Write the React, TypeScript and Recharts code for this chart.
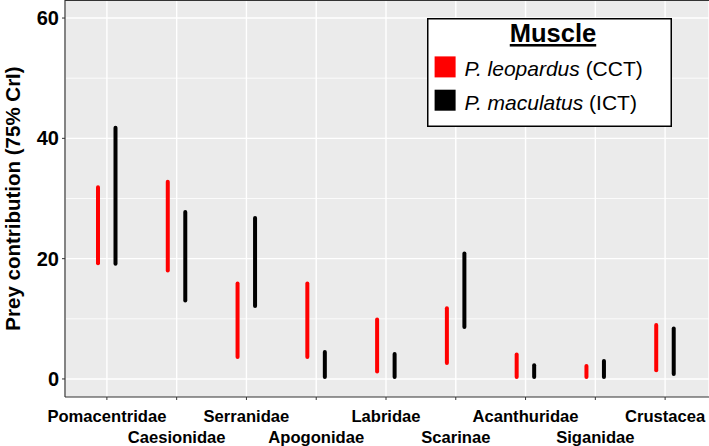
import React from "react";
import {
  ComposedChart,
  Bar,
  XAxis,
  YAxis,
  CartesianGrid,
  Legend,
  ReferenceLine,
} from "recharts";

const categories = [
  "Pomacentridae",
  "Caesionidae",
  "Serranidae",
  "Apogonidae",
  "Labridae",
  "Scarinae",
  "Acanthuridae",
  "Siganidae",
  "Crustacea",
];
// 75% credible interval bounds
const leopardusLow = [18.9, 17.7, 3.3, 3.3, 0.9, 2.3, 0, 0, 1.1];
const leopardusHigh = [32.2, 33.1, 16.2, 16.2, 10.2, 12.1, 4.4, 2.5, 9.3];
const maculatusLow = [18.8, 12.7, 11.8, 0, 0, 8.3, 0, 0, 0.5];
const maculatusHigh = [42.1, 28.1, 27.1, 4.8, 4.5, 21.2, 2.6, 3.3, 8.7];
const majorTicks = [0, 20, 40, 60];
const minorTicks = [10, 30, 50];

const data = categories.map((name, i) => ({
  name,
  leopardus: [leopardusLow[i], leopardusHigh[i]],
  maculatus: [maculatusLow[i], maculatusHigh[i]],
}));

const FONT = "'Liberation Sans', Arial, sans-serif";

function StaggeredTick(props: any) {
  const { x, y, payload, index } = props;
  const dy = index % 2 === 0 ? 20 : 41;
  return (
    <text
      x={x}
      y={y + dy}
      textAnchor="middle"
      fontFamily={FONT}
      fontSize={16.6}
      fontWeight="bold"
      fill="#000"
    >
      {payload.value}
    </text>
  );
}

function YTitle(props: any) {
  const vb = props.viewBox;
  const cx = vb.x + 12;
  const cy = vb.y + vb.height / 2;
  return (
    <text
      x={cx}
      y={cy}
      transform={`rotate(-90, ${cx}, ${cy})`}
      textAnchor="middle"
      dominantBaseline="central"
      fontFamily={FONT}
      fontSize={20.5}
      fontWeight="bold"
      fill="#000"
    >
      Prey contribution (75% CrI)
    </text>
  );
}

function MuscleLegend(props: any) {
  const items = props.payload || [];
  return (
    <svg width={245} height={109} style={{ display: "block" }}>
      <rect x={0.75} y={0.75} width={243.5} height={107.5} fill="#fff" stroke="#000" strokeWidth={1.5} />
      <text
        x={126}
        y={24}
        textAnchor="middle"
        fontFamily={FONT}
        fontSize={25.5}
        fontWeight="bold"
        textDecoration="underline"
        fill="#000"
      >
        Muscle
      </text>
      {items.map((item: any, i: number) => {
        const label = String(item.value);
        const cut = label.indexOf(" (");
        const species = label.slice(0, cut);
        const code = label.slice(cut);
        const top = 38.4 + i * 33.3;
        return (
          <g key={label}>
            <rect x={7.6} y={top} width={21} height={21} fill={item.color} />
            <text x={37.6} y={top + 20} fontFamily={FONT} fontSize={21} fill="#000">
              <tspan fontStyle="italic">{species}</tspan>
              <tspan>{code}</tspan>
            </text>
          </g>
        );
      })}
    </svg>
  );
}

export default function App() {
  return (
    <div style={{ position: "absolute", left: 0, top: 0, background: "#fff" }}>
      <ComposedChart
        width={709}
        height={446}
        data={data}
        margin={{ top: 0, right: 0, bottom: 0, left: 0 }}
        barGap={13.5}
        style={{ fontFamily: FONT }}
      >
        <CartesianGrid
          fill="#EBEBEB"
          stroke="#fff"
          strokeWidth={0.8}
          vertical={false}
          horizontalValues={minorTicks}
        />
        <CartesianGrid
          stroke="#fff"
          strokeWidth={1.4}
          horizontalValues={majorTicks}
        />
        <XAxis
          dataKey="name"
          height={49}
          padding={{ left: 7, right: 9 }}
          tick={<StaggeredTick />}
          tickSize={3}
          tickMargin={2}
          interval={0}
          axisLine={{ stroke: "#333", strokeWidth: 1.2 }}
          tickLine={{ stroke: "#333" }}
        />
        <YAxis
          type="number"
          domain={[-3, 63]}
          ticks={majorTicks}
          width={65}
          tickSize={3}
          tickMargin={3}
          tick={{ fill: "#000", fontSize: 20, fontWeight: "bold", fontFamily: FONT }}
          axisLine={{ stroke: "#333", strokeWidth: 1.2 }}
          tickLine={{ stroke: "#333" }}
          label={<YTitle />}
          allowDataOverflow
        />
        <ReferenceLine y={63} stroke="#333" strokeWidth={2} />
        <Legend
          layout="horizontal"
          verticalAlign="middle"
          align="center"
          wrapperStyle={{ top: 18, left: 427, width: 245, height: 109 }}
          content={<MuscleLegend />}
        />
        <Bar
          dataKey="leopardus"
          name="P. leopardus (CCT)"
          fill="#FF0000"
          barSize={4}
          radius={2}
          isAnimationActive={false}
        />
        <Bar
          dataKey="maculatus"
          name="P. maculatus (ICT)"
          fill="#000000"
          barSize={4}
          radius={2}
          isAnimationActive={false}
        />
      </ComposedChart>
    </div>
  );
}
